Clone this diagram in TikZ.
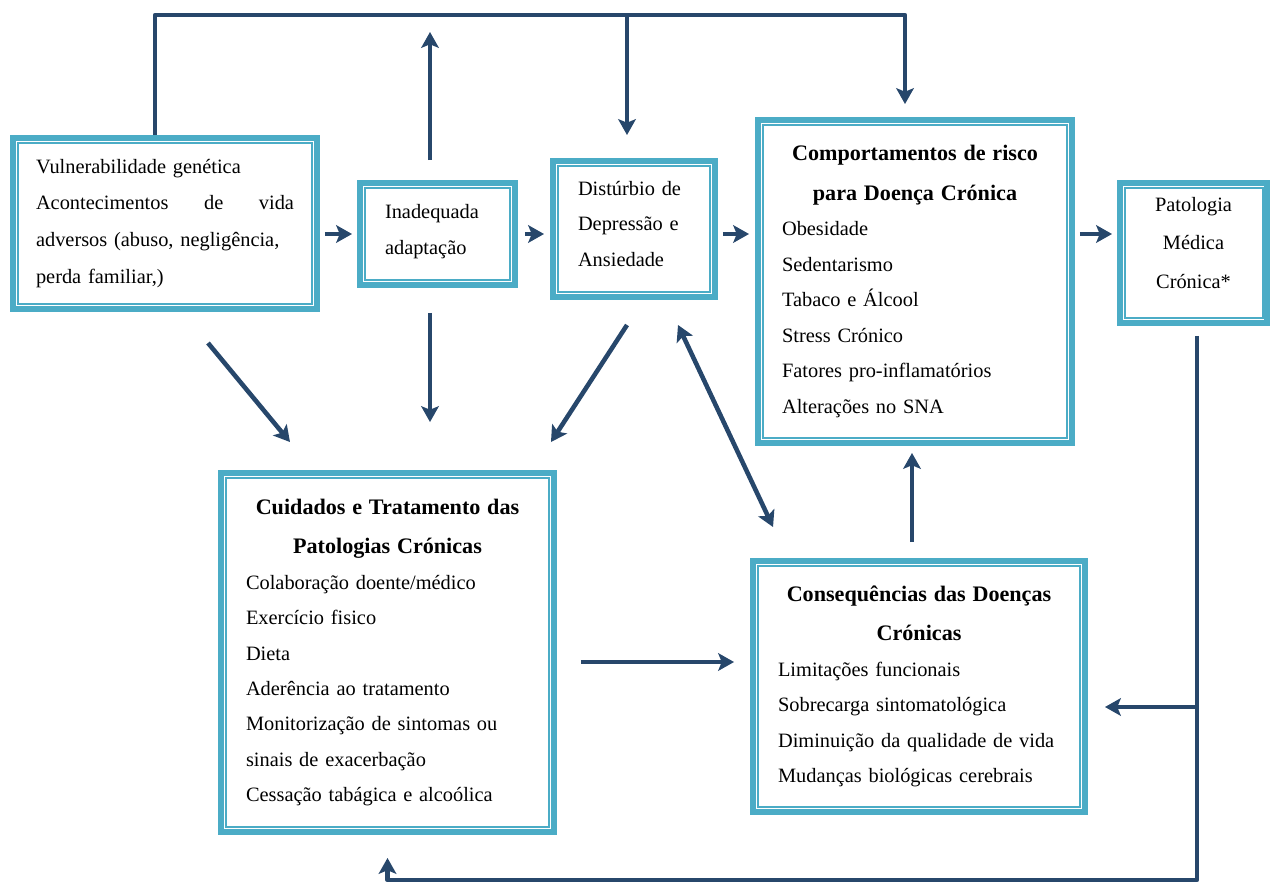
\documentclass[tikz,border=0pt]{standalone}
\usepackage{fontspec}
\setmainfont{Liberation Serif}
\usepackage{tikz}
\usetikzlibrary{arrows.meta}
\definecolor{frame}{HTML}{4BACC6}
\definecolor{ink}{HTML}{27476B}
\setlength{\parindent}{0pt}
\newcommand{\boxhead}{\fontsize{12.6}{22.5}\selectfont\bfseries}
\newcommand{\lift}[1]{\par\vskip#1\hrule height0pt}

\begin{document}
\begin{tikzpicture}[x=0.02cm, y=-0.02cm,
  box/.style={draw=frame, line width=0.12cm, fill=white, inner sep=0pt, align=left,
    font=\fontsize{11.6}{20.2}\selectfont},
  rim/.style={draw=frame, line width=0.04cm},
  arr/.style={draw=ink, line width=2.6pt, line join=round, -{Stealth[length=9pt,width=10pt,inset=2pt]}},
  both/.style={arr, {Stealth[length=9pt,width=10pt,inset=2pt]}-{Stealth[length=9pt,width=10pt,inset=2pt]}}]
  \useasboundingbox (0,0) rectangle (1270,882);

  \node[box, minimum width=6.08cm, minimum height=3.42cm, text width=5.16cm,
    font=\fontsize{11.6}{21}\selectfont] (vuln) at (165,223.5)
    {Vulnerabilidade genética\\ Acontecimentos\hfill de\hfill vida\\ adversos (abuso, negligência,\\ perda familiar,)};
  \node[box, minimum width=3.10cm, minimum height=2.04cm, text width=2.1cm] (inad) at (437.5,234)
    {Inadequada\\ adaptação\lift{0.1cm}};
  \node[box, minimum width=3.24cm, minimum height=2.72cm, text width=2.24cm] (dist) at (634,229)
    {Distúrbio de\\ Depressão e\\ Ansiedade\lift{0.2cm}};
  \node[box, minimum width=6.28cm, minimum height=6.46cm, text width=5.32cm] (comp) at (915,281.5)
    {{\centering\boxhead Comportamentos de risco\\ para Doença Crónica\par}
     Obesidade\\ Sedentarismo\\ Tabaco e Álcool\\ Stress Crónico\\ Fatores pro-inflamatórios\\ Alterações no SNA};
  \node[box, align=center, minimum width=2.94cm, minimum height=2.80cm, text width=2.6cm,
    font=\fontsize{11.6}{21.9}\selectfont] (pato) at (1193.5,253)
    {Patologia\\ Médica\\ Crónica*\lift{0.4cm}};
  \node[box, minimum width=6.66cm, minimum height=7.18cm, text width=5.66cm] (cuid) at (387.5,652.5)
    {{\centering\boxhead Cuidados e Tratamento das\\ Patologias Crónicas\par}
     Colaboração doente/médico\\ Exercício fisico\\ Dieta\\ Aderência ao tratamento\\
     Monitorização de sintomas ou\\ sinais de exacerbação\\ Cessação tabágica e alcoólica};
  \node[box, minimum width=6.64cm, minimum height=5.02cm, text width=5.64cm] (cons) at (919,686.5)
    {{\centering\boxhead Consequências das Doenças\\ Crónicas\par}
     Limitações funcionais\\ Sobrecarga sintomatológica\\ Diminuição da qualidade de vida\\ Mudanças biológicas cerebrais};

  \foreach \n in {vuln,inad,dist,comp,pato,cuid,cons}
    \draw[rim] ([xshift=0.15cm,yshift=0.15cm]\n.south west) rectangle ([xshift=-0.15cm,yshift=-0.15cm]\n.north east);

  \coordinate (topl) at (155,15);
  \coordinate (inup) at (430,32);
  \coordinate (dtop) at ([xshift=-0.14cm]dist.north);
  \coordinate (up) at ([xshift=-0.14cm]cons.north);
  \coordinate (drop) at ([xshift=0.07cm]pato.south);
  \coordinate (jn) at ([yshift=-0.41cm]cons.east);
  \coordinate (bot) at (0,880);

  \draw[arr, shorten <=0.1cm, shorten >=0.1cm] (vuln.east |- inad.west) -- (inad.west);
  \draw[arr, shorten <=0.14cm, shorten >=0.12cm] (inad.east) -- (dist.west |- inad.east);
  \draw[arr, shorten <=0.1cm, shorten >=0.12cm] (dist.east |- inad.east) -- (comp.west |- inad.east);
  \draw[arr, shorten <=0.1cm, shorten >=0.1cm] (comp.east |- inad.east) -- (pato.west |- inad.east);

  \draw[arr, shorten >=0.26cm] (vuln.north -| topl) -- (topl) -| ([xshift=-0.2cm]comp.north);
  \draw[arr, shorten >=0.46cm] (dtop |- topl) -- (dtop);
  \draw[arr, shorten <=0.4cm] (inad.north -| inup) -- (inup);
  \draw[arr, shorten <=0.5cm, shorten >=0.96cm] (inad.south -| inup) -- (cuid.north -| inup);

  \draw[arr] ([shift={(43,31)}]vuln.south) -- ([shift={(-97.5,-28)}]cuid.north);
  \draw[arr] ([shift={(-7,25)}]dist.south) -- ([shift={(-6,-28)}]cuid.north east);
  \draw[both] ([shift={(44,25)}]dist.south) -- ([shift={(23,-31)}]cons.north west);

  \draw[arr, shorten <=0.48cm, shorten >=0.32cm] ([yshift=-0.19cm]cuid.east) -- ([yshift=-0.19cm]cuid.east -| cons.west);
  \draw[arr, shorten <=0.32cm, shorten >=0.14cm] (up) -- (up |- comp.south);

  \draw[arr, shorten <=0.2cm, shorten >=0.46cm] (drop) -- (drop |- bot) -| (cuid.south);
  \draw[arr, shorten >=0.34cm] (drop |- jn) -- (jn);
\end{tikzpicture}
\end{document}
